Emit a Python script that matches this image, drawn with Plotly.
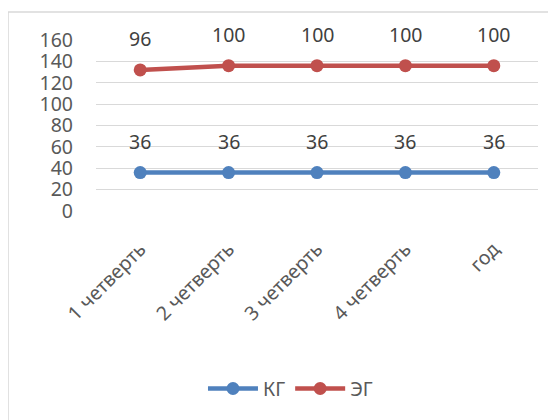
import numpy as np
import plotly.graph_objects as go

categories = ["1 четверть", "2 четверть", "3 четверть", "4 четверть", "год"]
kg_values = [36, 36, 36, 36, 36]
eg_values = [96, 100, 100, 100, 100]
y_ticks = [0, 20, 40, 60, 80, 100, 120, 140, 160]

kg_arr = np.array(kg_values)
eg_stacked = kg_arr + np.array(eg_values)  # stacked line chart

BLUE = "#4F81BD"
RED = "#C0504D"
FONT = "Noto Sans"
TXT = "#404040"
FS = 19.5

fig = go.Figure()
fig.add_trace(go.Scatter(
    x=categories, y=kg_arr, name="КГ", mode="lines+markers",
    line=dict(color=BLUE, width=4.5), marker=dict(size=13, color=BLUE),
))
fig.add_trace(go.Scatter(
    x=categories, y=eg_stacked, name="ЭГ", mode="lines+markers",
    line=dict(color=RED, width=4.5), marker=dict(size=13, color=RED),
))

annotations = []
for c, y, v in zip(categories, kg_arr, kg_values):
    annotations.append(dict(x=c, y=y, text=str(v), showarrow=False, yshift=31,
                            font=dict(family=FONT, size=FS, color=TXT)))
for c, y, v in zip(categories, eg_stacked, eg_values):
    annotations.append(dict(x=c, y=y, text=str(v), showarrow=False, yshift=31,
                            font=dict(family=FONT, size=FS, color=TXT)))

fig.update_layout(
    width=548, height=412,
    margin=dict(l=88, r=18, t=32, b=209),
    paper_bgcolor="white", plot_bgcolor="white",
    font=dict(family=FONT, size=FS, color="#595959"),
    showlegend=True,
    legend=dict(orientation="h", x=0.44, xanchor="center", y=-1.04, yanchor="middle",
                font=dict(family=FONT, size=FS, color="#595959"), itemwidth=50),
    annotations=annotations,
    shapes=[dict(type="rect", xref="paper", yref="paper",
                 x0=-0.199, x1=1.2, y0=-1.5, y1=1.164,
                 line=dict(color="#D9D9D9", width=1.5), fillcolor="rgba(0,0,0,0)", layer="below")],
)
fig.update_xaxes(range=[-0.5, 4.5], showgrid=False, showline=False, zeroline=False, ticks="",
                 tickangle=-45, ticklabelstandoff=22,
                 tickfont=dict(family=FONT, size=FS, color="#595959"))
fig.update_yaxes(range=[0, 160], tickvals=y_ticks, showgrid=True, gridcolor="#D9D9D9",
                 gridwidth=1, zeroline=False, showline=False, ticks="",
                 ticklabelstandoff=22,
                 tickfont=dict(family=FONT, size=FS, color="#595959"))

fig.write_html("out.html")
